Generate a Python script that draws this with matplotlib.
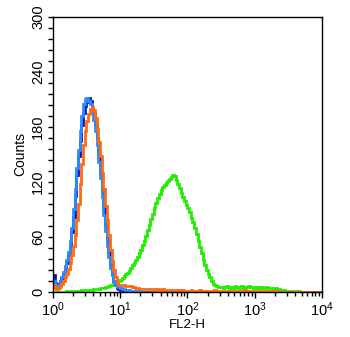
import numpy as np
import matplotlib
matplotlib.use("Agg")
import matplotlib.pyplot as plt
from matplotlib.ticker import LogLocator, MultipleLocator, FixedLocator

plt.rcParams["font.family"] = ["Liberation Sans", "DejaVu Sans"]
plt.rcParams["mathtext.fontset"] = "custom"
plt.rcParams["mathtext.rm"] = "Liberation Sans"
plt.rcParams["mathtext.it"] = "Liberation Sans:italic"
plt.rcParams["mathtext.bf"] = "Liberation Sans:bold"

# histogram channels: 40 bins per decade, 10^0 .. 10^4
BIN_STEP = 0.025
N_BINS = 160

# counts per bin
dark_blue = [18, 10, 7, 9, 12, 15, 20, 26, 32, 40,
             50, 65, 82, 105, 128, 148, 165, 182, 195, 203,
             207, 211, 208, 200, 195, 182, 168, 150, 130, 112,
             92, 72, 58, 44, 30, 20, 12, 7, 4, 3,
             2, 2, 1, 1, 1, 1, 0, 0, 0, 0] + [0] * 110
light_blue = [12, 6, 5, 8, 12, 16, 22, 28, 35, 44,
              55, 70, 90, 112, 135, 155, 175, 192, 205, 210,
              212, 208, 205, 198, 188, 176, 160, 142, 124, 104,
              84, 66, 50, 38, 26, 18, 12, 8, 6, 5,
              4, 3, 3, 2, 2, 2, 1, 1, 1, 1,
              1, 1, 0, 0, 0, 0, 0, 0, 0, 0] + [0] * 100
orange = [8, 4, 3, 4, 6, 9, 12, 16, 20, 25,
          32, 40, 50, 62, 78, 96, 118, 140, 160, 175,
          186, 194, 200, 202, 198, 190, 178, 164, 148, 130,
          112, 94, 78, 62, 46, 34, 24, 16, 11, 8,
          7, 7, 7, 6, 6, 6, 6, 5, 5, 4,
          4, 3, 3, 3, 3, 3, 3, 3, 3, 3,
          3, 2, 3, 2, 2, 3, 2, 2, 2, 2,
          2, 2, 2, 2, 1, 2, 1, 2, 1, 1,
          1, 1, 2, 1, 1, 1, 1, 2, 1, 1,
          1, 1, 1, 1, 1, 1, 2, 1, 1, 1,
          1, 1, 1, 1, 1, 1, 1, 1, 1, 1,
          1, 1, 1, 2, 1, 1, 1, 1, 1, 1,
          1, 1, 1, 1, 1, 1, 1, 1, 1, 1,
          1, 1, 1, 1, 0, 0, 0, 0, 0, 0] + [0] * 20
green = [0, 0, 0, 0, 0, 0, 0, 0, 1, 1,
         1, 1, 1, 1, 1, 1, 1, 2, 2, 2,
         2, 2, 2, 2, 3, 3, 3, 3, 4, 4,
         4, 5, 5, 6, 7, 8, 9, 10, 11, 12,
         13, 15, 17, 19, 21, 23, 26, 29, 32, 35,
         38, 42, 46, 51, 56, 61, 67, 73, 79, 85,
         91, 97, 102, 107, 111, 114, 117, 119, 121, 123,
         125, 127, 126, 122, 118, 113, 108, 103, 99, 95,
         92, 87, 81, 76, 70, 63, 56, 49, 42, 35,
         29, 24, 20, 16, 12, 9, 7, 6, 5, 5,
         5, 4, 5, 6, 5, 4, 5, 4, 6, 5,
         4, 5, 6, 5, 4, 5, 6, 5, 5, 4,
         5, 4, 5, 4, 5, 4, 4, 5, 4, 4,
         4, 3, 4, 3, 3, 2, 2, 2, 1, 1,
         1, 1, 1, 1, 1, 0, 1, 0, 0, 0] + [0] * 10

edges = 10 ** (np.arange(N_BINS + 1) * BIN_STEP)

fig = plt.figure(figsize=(3.5, 3.37), dpi=100)
ax = fig.add_axes([0.151, 0.134, 0.769, 0.816])

lw = 2.0
ax.stairs(green, edges, baseline=None, color="#22ee00", linewidth=lw)
ax.stairs(dark_blue, edges, baseline=None, color="#1014c0", linewidth=lw)
ax.stairs(light_blue, edges, baseline=None, color="#2a8cff", linewidth=lw)
ax.stairs(orange, edges, baseline=None, color="#ff6a10", linewidth=lw)

ax.set_xscale("log")
ax.set_xlim(1, 1e4)
ax.set_ylim(0, 300)

ax.xaxis.set_major_locator(LogLocator(base=10, numticks=10))
ax.xaxis.set_minor_locator(LogLocator(base=10, subs=np.arange(2, 10), numticks=20))
ax.yaxis.set_major_locator(FixedLocator([0, 60, 120, 180, 240, 300]))
ax.yaxis.set_minor_locator(MultipleLocator(12))

ax.tick_params(axis="x", which="major", length=4, width=1, labelsize=10.5, pad=2)
ax.tick_params(axis="x", which="minor", length=3, width=1)
ax.tick_params(axis="y", which="both", length=3.5, width=1, labelsize=10.5, pad=2)
for lab in ax.get_yticklabels():
    lab.set_rotation(90)
    lab.set_va("center")

for s in ax.spines.values():
    s.set_linewidth(1)

ax.set_ylabel("Counts", fontsize=10, labelpad=3)
ax.set_xlabel("FL2-H", fontsize=9.5, labelpad=0)

fig.savefig("out.png", dpi=100)
